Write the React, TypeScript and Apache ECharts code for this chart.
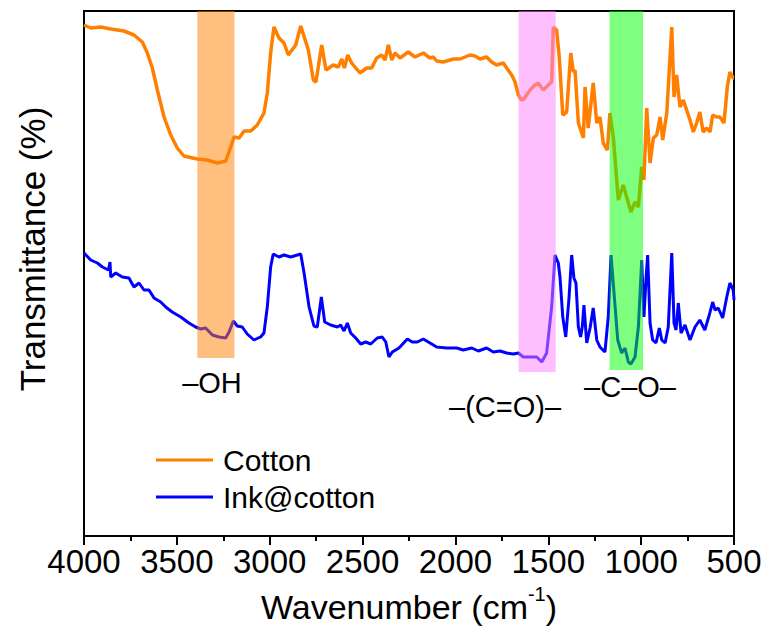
import React, { useEffect, useRef } from "react";
import * as echarts from "echarts";

const FONT = "'Liberation Sans', Arial, Helvetica, sans-serif";

const seriesNames = ["Cotton", "Ink@cotton"];
const seriesColors = ["#FF8000", "#0000FF"];

const cottonWave = [
  4000, 3964, 3910, 3856, 3785, 3731, 3686, 3659, 3632, 3605, 3569, 3533, 3498, 3462, 3390, 3336, 3282, 3237,
  3210, 3192, 3165, 3138, 3102, 3067, 3031, 3013, 2995, 2977, 2950, 2923, 2900, 2860, 2833, 2792, 2765, 2751,
  2720, 2697, 2658, 2631, 2612, 2598, 2580, 2559, 2514, 2478, 2451, 2424, 2397, 2379, 2361, 2343, 2325, 2298,
  2254, 2218, 2173, 2137, 2119, 2101, 2065, 2011, 1975, 1922, 1895, 1868, 1832, 1805, 1778, 1742, 1724, 1697,
  1679, 1661, 1645, 1631, 1598, 1572, 1554, 1527, 1500, 1482, 1473, 1455, 1441, 1422, 1401, 1379, 1365, 1356,
  1338, 1320, 1311, 1302, 1285, 1258, 1239, 1222, 1204, 1182, 1168, 1150, 1123, 1096, 1078, 1055, 1033, 1015,
  997, 985, 970, 952, 934, 916, 898, 884, 862, 835, 823, 809, 791, 773, 755, 737, 719, 701, 684, 666, 647, 629,
  615, 593, 576, 554, 536, 522, 504, 500,
];
const cottonT = [
  511, 508, 509, 507, 505, 501, 494, 483, 468, 446, 419, 401, 388, 380, 377, 376, 373, 375,
  389, 399, 398, 405, 405, 411, 423, 443, 483, 509, 498, 493, 481, 491, 510, 486, 456, 454,
  491, 466, 471, 469, 477, 468, 481, 473, 463, 468, 468, 478, 481, 476, 491, 476, 483, 478,
  484, 479, 483, 478, 479, 475, 474, 477, 477, 481, 480, 477, 479, 474, 471, 473, 468, 461,
  454, 441, 436, 437, 446, 451, 453, 446, 451, 454, 509, 506, 479, 421, 424, 483, 464, 466,
  413, 403, 398, 449, 408, 453, 413, 419, 393, 386, 423, 399, 336, 351, 339, 324, 334, 329,
  369, 356, 428, 373, 398, 401, 419, 396, 423, 509, 439, 461, 429, 436, 426, 416, 404, 413, 424, 404, 408, 404,
  421, 419, 419, 413, 449, 464, 458, 458,
];

const inkWave = [
  4000, 3964, 3928, 3901, 3868, 3860, 3856, 3829, 3794, 3758, 3731, 3704, 3677, 3650, 3623, 3587, 3560, 3525,
  3479, 3435, 3399, 3372, 3345, 3309, 3273, 3237, 3219, 3196, 3175, 3148, 3121, 3085, 3049, 3031, 3013, 2995,
  2981, 2950, 2923, 2887, 2833, 2815, 2788, 2762, 2744, 2722, 2704, 2672, 2636, 2618, 2600, 2582, 2564, 2537,
  2510, 2483, 2456, 2421, 2394, 2375, 2358, 2340, 2304, 2259, 2232, 2205, 2173, 2137, 2101, 2047, 1993, 1958,
  1912, 1877, 1832, 1796, 1760, 1724, 1688, 1661, 1635, 1598, 1562, 1535, 1509, 1482, 1464, 1446, 1437, 1422,
  1406, 1388, 1374, 1362, 1351, 1338, 1326, 1317, 1308, 1293, 1275, 1258, 1239, 1222, 1195, 1177, 1162, 1146,
  1126, 1105, 1087, 1069, 1055, 1033, 1015, 997, 985, 974, 965, 952, 938, 920, 902, 889, 871, 854, 835, 823,
  812, 800, 785, 764, 737, 710, 684, 657, 633, 615, 602, 585, 561, 539, 522, 504, 500,
];
const inkT = [
  283, 276, 273, 269, 266, 274, 259, 263, 259, 258, 249, 253, 246, 246, 238, 234, 229, 224,
  219, 213, 209, 207, 208, 201, 199, 198, 204, 215, 210, 209, 202, 196, 199, 203, 229, 269,
  282, 279, 281, 279, 282, 263, 229, 210, 209, 239, 214, 211, 209, 211, 205, 213, 203, 198,
  192, 194, 192, 198, 199, 194, 179, 184, 188, 197, 194, 194, 197, 193, 189, 188, 188, 186,
  188, 185, 188, 184, 185, 183, 182, 183, 179, 179, 179, 174, 183, 229, 281, 273, 259, 219,
  199, 239, 281, 258, 253, 209, 199, 209, 231, 193, 208, 228, 196, 189, 184, 219, 281, 243,
  196, 183, 188, 174, 172, 179, 209, 276, 219, 256, 281, 213, 196, 193, 208, 196, 193, 209, 283, 213,
  206, 233, 203, 211, 196, 209, 216, 206, 221, 234, 226, 228, 218, 239, 253, 246, 236,
];

const bandStart = [3390, 1660, 1170];
const bandEnd = [3190, 1460, 990];
const bandBottom = [178, 164, 166];
const bandColors = ["rgba(255,128,0,0.5)", "rgba(255,128,255,0.5)", "rgba(0,255,0,0.5)"];
const bandLabels = ["\u2013OH", "\u2013(C=O)\u2013", "\u2013C\u2013O\u2013"];
const bandLabelPos = [
  [212, 383],
  [505, 407],
  [630, 387],
];

const Y_MAX = 525;

export default function App() {
  const ref = useRef<HTMLDivElement>(null);

  useEffect(() => {
    if (!ref.current) return;
    const chart = echarts.init(ref.current, undefined, { renderer: "svg" });

    const cottonData = cottonWave.map((w, i) => [w, cottonT[i]]);
    const inkData = inkWave.map((w, i) => [w, inkT[i]]);

    const option: any = {
      animation: false,
      backgroundColor: "#fff",
      grid: {
        left: 84,
        right: 34,
        top: 11,
        bottom: 94,
        show: true,
        borderColor: "#000",
        borderWidth: 2,
        backgroundColor: "transparent",
      },
      legend: {
        orient: "vertical",
        left: 151,
        top: 440,
        icon: "rect",
        itemWidth: 57,
        itemHeight: 3,
        itemGap: 7,
        data: seriesNames,
        textStyle: { fontSize: 30, color: "#000", fontFamily: FONT, padding: [0, 0, 0, 5], lineHeight: 28 },
      },
      xAxis: {
        type: "value",
        min: 500,
        max: 4000,
        interval: 500,
        inverse: true,
        axisLine: { show: true, lineStyle: { color: "#000", width: 2 } },
        axisTick: { show: true, length: 9, lineStyle: { color: "#000", width: 2 } },
        minorTick: { show: true, splitNumber: 2, length: 5, lineStyle: { color: "#000", width: 2 } },
        splitLine: { show: false },
        minorSplitLine: { show: false },
        axisLabel: {
          fontSize: 33,
          color: "#000",
          margin: 9,
          fontFamily: FONT,
          formatter: (v: number) => String(v),
        },
        name: "{a|Wavenumber (cm}{b|-1}{a|)}",
        nameLocation: "middle",
        nameGap: 48,
        nameTextStyle: {
          rich: {
            a: { fontSize: 34, color: "#000", fontFamily: FONT, lineHeight: 40, verticalAlign: "bottom" },
            b: { fontSize: 20, color: "#000", fontFamily: FONT, lineHeight: 40, verticalAlign: "top" },
          },
        },
      },
      yAxis: {
        type: "value",
        min: 0,
        max: Y_MAX,
        axisLine: { show: true, lineStyle: { color: "#000", width: 2 } },
        axisTick: { show: false },
        axisLabel: { show: false },
        splitLine: { show: false },
      },
      series: [
        {
          name: seriesNames[0],
          type: "line",
          data: cottonData,
          symbol: "none",
          z: 2,
          lineStyle: { color: seriesColors[0], width: 3.5 },
          itemStyle: { color: seriesColors[0] },
        },
        {
          name: seriesNames[1],
          type: "line",
          data: inkData,
          symbol: "none",
          z: 3,
          lineStyle: { color: seriesColors[1], width: 3 },
          itemStyle: { color: seriesColors[1] },
        },
        {
          name: "bands",
          type: "line",
          data: [],
          z: 10,
          silent: true,
          markArea: {
            silent: true,
            z: 10,
            label: { show: false },
            data: bandStart.map((s, i) => [
              { xAxis: s, yAxis: bandBottom[i], itemStyle: { color: bandColors[i] } },
              { xAxis: bandEnd[i], yAxis: Y_MAX },
            ]),
          },
        },
      ],
      graphic: [
        {
          type: "text",
          x: 32,
          y: 249,
          rotation: Math.PI / 2,
          style: {
            text: "Transmittance (%)",
            fontSize: 35,
            fontFamily: FONT,
            fill: "#000",
            align: "center",
            verticalAlign: "middle",
          },
        },
        ...bandLabels.map((t, i) => ({
          type: "text",
          x: bandLabelPos[i][0],
          y: bandLabelPos[i][1],
          style: {
            text: t,
            fontSize: 29,
            fontFamily: FONT,
            fill: "#000",
            align: "center",
            verticalAlign: "middle",
          },
        })),
      ],
    };

    chart.setOption(option);
    return () => chart.dispose();
  }, []);

  return (
    <div
      ref={ref}
      style={{ position: "fixed", left: 0, top: 0, width: 768, height: 630, background: "#fff" }}
    />
  );
}
